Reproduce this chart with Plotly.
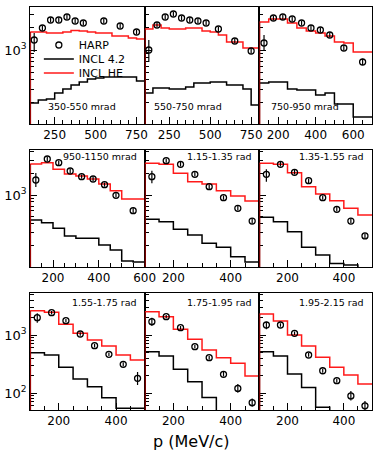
import math
import plotly.graph_objects as go

# ---------------- data ----------------
# bin edges (MeV/c)
edges_a = [100, 150, 200, 250, 300, 350, 400, 450, 500, 550, 600, 650, 700, 750, 800]
edges_b = [100, 150, 200, 250, 300, 350, 400, 450, 500, 550, 600, 650, 700]
edges_c = [100, 150, 200, 250, 300, 350, 400, 450, 500, 550, 600]
edges_d = [100, 150, 200, 250, 300, 350, 400, 450, 500]

panel_labels = ["350-550 mrad", "550-750 mrad", "750-950 mrad",
                "950-1150 mrad", "1.15-1.35 rad", "1.35-1.55 rad",
                "1.55-1.75 rad", "1.75-1.95 rad", "1.95-2.15 rad"]

# HARP points
harp_x1 = [125, 175, 225, 275, 325, 375, 425, 550, 650, 750]
harp_y1 = [1359, 1965, 2512, 2512, 2754, 2436, 2291, 2436, 2089, 1738]
harp_x2 = [125, 175, 225, 275, 325, 375, 425, 475, 550, 650, 750]
harp_y2 = [1000, 2154, 2754, 3020, 2672, 2512, 2436, 2291, 1905, 1318, 970]
harp_x3 = [125, 175, 225, 275, 325, 375, 425, 475, 550, 650]
harp_y3 = [1240, 2672, 2754, 2590, 2291, 1965, 1848, 1585, 1063, 692]
harp_x4 = [125, 175, 225, 275, 325, 375, 425, 475, 550]
harp_y4 = [1616, 3162, 2810, 2154, 1796, 1668, 1390, 990, 605]
harp_x5 = [125, 175, 225, 275, 325, 375, 425, 475]
harp_y5 = [1796, 2995, 2670, 1939, 1304, 917, 654, 435]
harp_y6 = [1939, 2670, 2067, 1580, 917, 633, 435, 270]
harp_y7 = [1988, 2424, 1764, 1040, 654, 465, 312, 179]
harp_y8 = [1696, 2068, 1336, 629, 406, 210, 120, 68]
harp_y9 = [1487, 1487, 1070, 452, 242, 163, 89, 60]

# HARP errors (up / down)
harp_eu1 = [331, 150, 190, 190, 200, 180, 170, 180, 160, 130]
harp_ed1 = [419, 140, 170, 170, 180, 160, 150, 160, 140, 120]
harp_eu2 = [359, 160, 200, 220, 200, 190, 180, 170, 140, 100, 80]
harp_ed2 = [308, 150, 180, 200, 180, 170, 160, 150, 130, 90, 70]
harp_eu3 = [345, 200, 200, 190, 170, 150, 140, 120, 90, 70]
harp_ed3 = [240, 180, 180, 170, 150, 130, 120, 110, 80, 60]
harp_eu4 = [405, 240, 210, 160, 130, 120, 100, 80, 60]
harp_ed4 = [324, 210, 190, 140, 120, 110, 90, 70, 50]
harp_eu5 = [379, 220, 200, 140, 100, 70, 50, 40]
harp_ed5 = [342, 200, 180, 130, 90, 60, 45, 35]
harp_eu6 = [336, 200, 150, 120, 70, 50, 35, 25]
harp_ed6 = [409, 180, 140, 110, 60, 45, 30, 22]
harp_eu7 = [378, 180, 130, 80, 50, 35, 28, 51]
harp_ed7 = [358, 160, 120, 70, 45, 32, 25, 42]
harp_eu8 = [292, 150, 100, 50, 32, 20, 23, 12]
harp_ed8 = [266, 140, 90, 45, 30, 18, 19, 10]
harp_eu9 = [209, 110, 80, 35, 20, 15, 19, 13]
harp_ed9 = [233, 100, 75, 32, 18, 13, 15, 12]

# INCL 4.2 (black) per bin
incl42_1 = [196, 215, 222, 267, 302, 341, 374, 411, 423, 437, 437, 437, 437, 386]
incl42_2 = [267, 311, 311, 302, 302, 321, 363, 363, 374, 374, 341, 341, 302, 185]
incl42_3 = [363, 374, 374, 302, 293, 293, 251, 267, 191, 191, 128, 128]
incl42_4 = [450, 412, 345, 270, 250, 250, 202, 172, 121, 117]
incl42_5 = [460, 426, 334, 278, 213, 188, 139, 117]
incl42_6 = [490, 426, 309, 188, 147, 112, 107, 60]
incl42_7 = [495, 452, 277, 174, 128, 83, 54.5, 54.5]
incl42_8 = [515, 434, 256, 157, 84, 30, 30, 30]
incl42_9 = [515, 434, 213, 125, 56.7, 30, 30, 30]

# INCL HE (red) per bin
inclhe_1 = [1738, 1738, 1685, 1685, 1738, 1820, 1792, 1738, 1685, 1685, 1537, 1537, 1445, 1402]
inclhe_2 = [1905, 2154, 1965, 1905, 1905, 1965, 1965, 1792, 1738, 1585, 1278, 1278, 1063, 1063]
inclhe_3 = [2362, 2590, 2590, 2291, 1965, 1792, 1685, 1537, 1278, 1240, 940, 940]
inclhe_4 = [2696, 2810, 2275, 1957, 1836, 1668, 1422, 1147, 880, 880]
inclhe_5 = [2756, 2670, 2002, 1530, 1422, 1147, 969, 825]
inclhe_6 = [2756, 2670, 2040, 1304, 1032, 833, 654, 527]
inclhe_7 = [2624, 2463, 1529, 1070, 820, 646, 452, 371]
inclhe_8 = [2522, 2068, 1254, 843, 551, 406, 325, 196]
inclhe_9 = [2302, 1744, 1000, 646, 412, 277, 204, 143]

# axis settings per panel / row
x_ranges = [[100, 800], [100, 800], [100, 700],
            [100, 600.5], [100, 500], [100, 500],
            [100, 500], [100, 500], [100, 500]]
x_ticks = [[250, 500, 750], [250, 500, 750], [200, 400, 600],
           [200, 400, 600], [200, 400], [200, 400],
           [200, 400], [200, 400], [200, 400]]
y_log_ranges = [[2.0133, 3.5733], [2.0, 3.625], [1.7069, 3.7241]]
y_ticks = [[1000], [1000], [100, 1000]]

legend_names = ["HARP", "INCL 4.2", "INCL HE"]

# ---------------- layout geometry ----------------
W, H = 383, 450
col_px = [(31, 149), (149, 267), (267, 383)]
row_px = [(7, 124), (150, 267), (293, 410)]

panels = [
    (harp_x1, harp_y1, harp_eu1, harp_ed1, edges_a, incl42_1, inclhe_1),
    (harp_x2, harp_y2, harp_eu2, harp_ed2, edges_a, incl42_2, inclhe_2),
    (harp_x3, harp_y3, harp_eu3, harp_ed3, edges_b, incl42_3, inclhe_3),
    (harp_x4, harp_y4, harp_eu4, harp_ed4, edges_c, incl42_4, inclhe_4),
    (harp_x5, harp_y5, harp_eu5, harp_ed5, edges_d, incl42_5, inclhe_5),
    (harp_x5, harp_y6, harp_eu6, harp_ed6, edges_d, incl42_6, inclhe_6),
    (harp_x5, harp_y7, harp_eu7, harp_ed7, edges_d, incl42_7, inclhe_7),
    (harp_x5, harp_y8, harp_eu8, harp_ed8, edges_d, incl42_8, inclhe_8),
    (harp_x5, harp_y9, harp_eu9, harp_ed9, edges_d, incl42_9, inclhe_9),
]

FONT = "DejaVu Sans"
RED = "#ff1a1a"
fig = go.Figure()
layout = dict(width=W, height=H, margin=dict(l=0, r=0, t=0, b=0), autosize=False,
              paper_bgcolor="white", plot_bgcolor="white",
              font=dict(family=FONT, color="black"))
annotations = []

for i, (hx, hy, eu, ed, edges, b42, bhe) in enumerate(panels):
    r, c = divmod(i, 3)
    n = i + 1
    xa = "x" if n == 1 else f"x{n}"
    ya = "y" if n == 1 else f"y{n}"
    xd = [col_px[c][0] / W, col_px[c][1] / W]
    yd = [1 - row_px[r][1] / H, 1 - row_px[r][0] / H]
    lo, hi = x_ranges[i]
    majors = x_ticks[i]
    minors = [v for v in range(100, 850, 50) if lo < v < hi and v not in majors]
    layout["xaxis" if n == 1 else f"xaxis{n}"] = dict(
        domain=xd, range=[lo, hi], anchor=ya, showgrid=False, zeroline=False,
        showline=True, linecolor="black", linewidth=1, mirror=True,
        ticks="inside", ticklen=7, tickwidth=1, tickcolor="black",
        tickmode="array", tickvals=majors, ticktext=[str(v) for v in majors],
        minor=dict(tickmode="array", tickvals=minors, ticks="inside", ticklen=4,
                   tickcolor="black", tickwidth=1, showgrid=False),
        tickfont=dict(family=FONT, size=12, color="black"), layer="below traces")
    ylo, yhi = y_log_ranges[r]
    ymin = [k * 10 ** d for d in (1, 2, 3) for k in range(2, 10)
            if ylo < math.log10(k * 10 ** d) < yhi]
    layout["yaxis" if n == 1 else f"yaxis{n}"] = dict(
        domain=yd, type="log", range=[ylo, yhi], anchor=xa, showgrid=False,
        zeroline=False, showline=True, linecolor="black", linewidth=1, mirror=True,
        ticks="inside", ticklen=7, tickwidth=1, tickcolor="black",
        tickmode="array", tickvals=y_ticks[r],
        ticktext=["10<sup>%d</sup>" % round(math.log10(v)) for v in y_ticks[r]],
        showticklabels=(c == 0),
        minor=dict(tickmode="array", tickvals=ymin, ticks="inside", ticklen=4,
                   tickcolor="black", tickwidth=1, showgrid=False),
        tickfont=dict(family=FONT, size=13, color="black"), layer="below traces")

    first = (i == 0)
    # INCL 4.2 (black histogram)
    fig.add_trace(go.Scatter(x=edges, y=b42 + [b42[-1]], mode="lines", line_shape="hv",
                             line=dict(color="black", width=1.5), name=legend_names[1],
                             showlegend=first, legend="legend2",
                             xaxis=xa, yaxis=ya, hoverinfo="skip"))
    fig.add_trace(go.Scatter(x=[edges[0], edges[0]], y=[1, b42[0]], mode="lines",
                             line=dict(color="black", width=1.5), showlegend=False,
                             xaxis=xa, yaxis=ya, hoverinfo="skip"))
    # INCL HE (red histogram)
    fig.add_trace(go.Scatter(x=edges, y=bhe + [bhe[-1]], mode="lines", line_shape="hv",
                             line=dict(color=RED, width=1.5), name=legend_names[2],
                             showlegend=first, legend="legend3",
                             xaxis=xa, yaxis=ya, hoverinfo="skip"))
    fig.add_trace(go.Scatter(x=[edges[0], edges[0]], y=[1, bhe[0]], mode="lines",
                             line=dict(color="#a80000", width=2), showlegend=False,
                             xaxis=xa, yaxis=ya, hoverinfo="skip"))
    # HARP data
    fig.add_trace(go.Scatter(x=hx, y=hy, mode="markers", name=legend_names[0],
                             marker=dict(symbol="circle-open", size=6, color="black",
                                         line=dict(width=1.3, color="black")),
                             error_y=dict(type="data", symmetric=False, array=eu,
                                          arrayminus=ed, color="black", thickness=1.2, width=0),
                             showlegend=first, legend="legend",
                             xaxis=xa, yaxis=ya))

    # panel label
    if r == 0:
        xs = [47, 157, 277][c]
        annotations.append(dict(text=panel_labels[i], x=xs / W, y=1 - 107 / H,
                                xref="paper", yref="paper", xanchor="left", yanchor="middle",
                                showarrow=False, font=dict(family=FONT, size=9.5, color="black")))
    else:
        xr = col_px[c][1] - 6
        yy = 156 if r == 1 else 302
        annotations.append(dict(text=panel_labels[i], x=xr / W, y=1 - yy / H,
                                xref="paper", yref="paper", xanchor="right", yanchor="middle",
                                showarrow=False, font=dict(family=FONT, size=9.5, color="black")))

annotations.append(dict(text="p (MeV/c)", x=197 / W, y=1 - 441 / H, xref="paper", yref="paper",
                        xanchor="center", yanchor="middle", showarrow=False,
                        font=dict(family=FONT, size=16, color="black")))

layout["annotations"] = annotations
layout["showlegend"] = True
for key, ypx in (("legend", 45), ("legend2", 59), ("legend3", 73)):
    layout[key] = dict(x=40 / W, y=1 - ypx / H, xanchor="left", yanchor="middle",
                       bgcolor="rgba(0,0,0,0)", borderwidth=0, tracegroupgap=0,
                       font=dict(family=FONT, size=11, color="black"), itemwidth=30)
fig.update_layout(**layout)
fig.write_html("out.html")
